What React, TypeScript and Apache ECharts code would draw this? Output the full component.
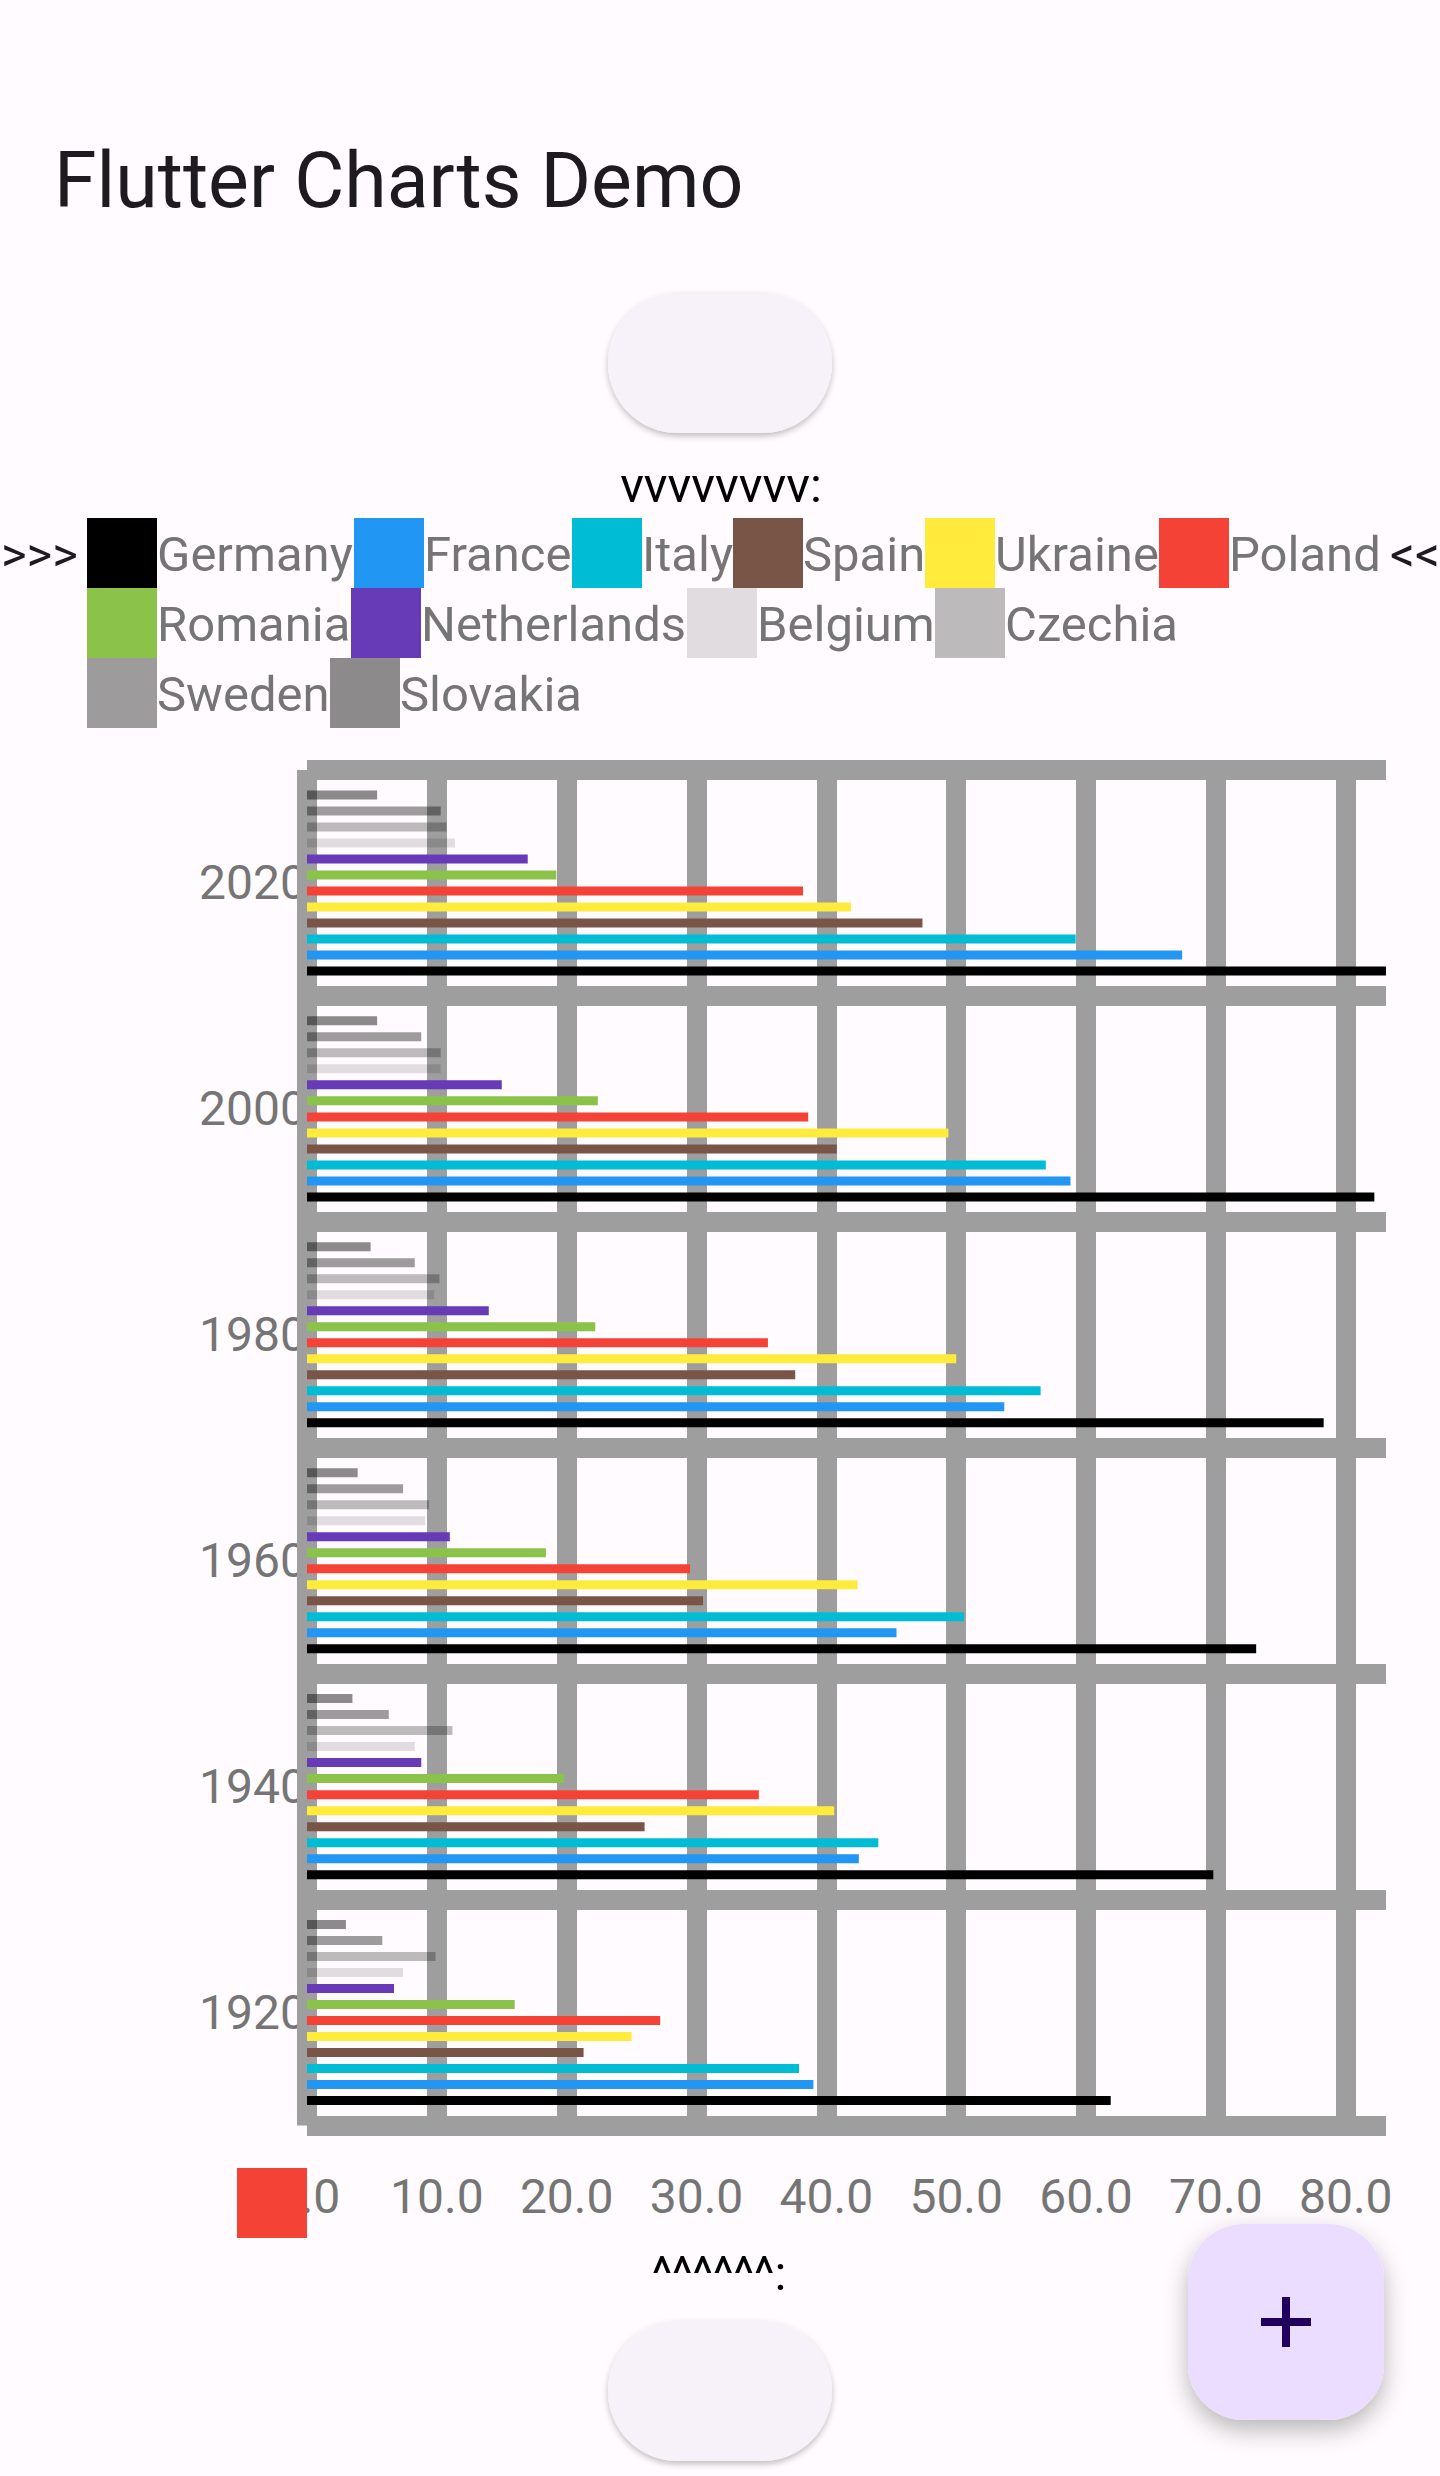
import React, { useEffect, useRef } from "react";
import * as echarts from "echarts";

const years = ["1920", "1940", "1960", "1980", "2000", "2020"];
const countries = [
  "Germany", "France", "Italy", "Spain", "Ukraine", "Poland",
  "Romania", "Netherlands", "Belgium", "Czechia", "Sweden", "Slovakia",
];
const colors = [
  "#000000", "#2196f3", "#00bcd4", "#795548", "#ffeb3b", "#f44336",
  "#8bc34a", "#673ab7", "rgba(0,0,0,0.12)", "rgba(0,0,0,0.26)", "rgba(0,0,0,0.38)", "rgba(0,0,0,0.45)",
];
// values per country, ordered by years (1920..2020)
const germany = [61.9, 69.8, 73.1, 78.3, 82.2, 83.1];
const france = [39.0, 42.5, 45.4, 53.7, 58.8, 67.4];
const italy = [37.9, 44.0, 50.6, 56.5, 56.9, 59.2];
const spain = [21.3, 26.0, 30.5, 37.6, 40.8, 47.4];
const ukraine = [25.0, 40.6, 42.4, 50.0, 49.4, 41.9];
const poland = [27.2, 34.8, 29.5, 35.5, 38.6, 38.2];
const romania = [16.0, 19.8, 18.4, 22.2, 22.4, 19.2];
const netherlands = [6.7, 8.8, 11.0, 14.0, 15.0, 17.0];
const belgium = [7.4, 8.3, 9.1, 9.8, 10.3, 11.4];
const czechia = [9.9, 11.2, 9.4, 10.2, 10.3, 10.75];
const sweden = [5.8, 6.3, 7.4, 8.3, 8.8, 10.3];
const slovakia = [3.0, 3.5, 3.9, 4.9, 5.4, 5.4];
const seriesValues = [
  germany, france, italy, spain, ukraine, poland,
  romania, netherlands, belgium, czechia, sweden, slovakia,
];
const xTicks = [0, 10, 20, 30, 40, 50, 60, 70, 80];

// legend layout (swatch left x, row index)
const legendLayout = [
  [87, 0], [354, 0], [572, 0], [733, 0], [925, 0], [1159, 0],
  [87, 1], [351, 1], [687, 1], [935, 1],
  [87, 2], [330, 2],
];

const FONT = "Roboto";

export default function App() {
  const ref = useRef<HTMLDivElement>(null);
  useEffect(() => {
    if (!ref.current) return;
    const chart = echarts.init(ref.current, null, { renderer: "svg" });
    const maxVal = Math.max(...seriesValues.flat());

    const legendEls: any[] = [];
    countries.forEach((c, i) => {
      const [x, row] = legendLayout[i];
      const top = 518 + row * 70;
      legendEls.push({
        type: "rect",
        shape: { x, y: top, width: 70, height: 70 },
        style: { fill: colors[i] },
      });
      legendEls.push({
        type: "text",
        x: x + 70,
        y: top + 36,
        style: {
          text: c,
          fontFamily: FONT,
          fontSize: 49,
          fill: "#757575",
          verticalAlign: "middle",
          align: "left",
        },
      });
    });

    // series listed last-to-first so that the first country sits at the bottom of each group
    const barSeries = countries
      .map((c, i) => ({
        name: c,
        type: "bar",
        data: seriesValues[i],
        barWidth: 9,
        barGap: "77.8%",
        z: 10,
        itemStyle: { color: colors[i] },
      }))
      .reverse();

    const option: any = {
      animation: false,
      backgroundColor: "#fffbfe",
      grid: { left: 307, right: 54, top: 770, bottom: 350.5, containLabel: false },
      xAxis: {
        type: "value",
        min: 0,
        max: maxVal,
        interval: 10,
        axisLine: { show: false },
        axisTick: { show: false },
        splitLine: { show: false },
        axisLabel: {
          fontFamily: FONT,
          fontSize: 48,
          color: "#757575",
          margin: 71,
          verticalAlign: "middle",
          hideOverlap: false,
          showMaxLabel: true,
          showMinLabel: true,
          formatter: (v: number) => (Math.abs(v % 10) < 1e-9 ? v.toFixed(1) : ""),
        },
      },
      yAxis: {
        type: "category",
        data: years,
        axisLine: { show: false },
        axisTick: { show: false },
        splitLine: { show: true, lineStyle: { color: "#9e9e9e", width: 20 } },
        axisLabel: { fontFamily: FONT, fontSize: 48, color: "#757575", margin: 0 },
      },
      series: [
        {
          type: "line",
          data: [],
          z: 1,
          silent: true,
          markLine: {
            silent: true,
            z: 1,
            symbol: ["none", "none"],
            label: { show: false },
            lineStyle: { type: "solid", width: 20, color: "#9e9e9e" },
            emphasis: { disabled: true },
            data: xTicks.map((t) => ({ xAxis: t })),
          },
        },
        ...barSeries,
      ],
      graphic: [
        {
          type: "text",
          x: 54,
          y: 181,
          style: { text: "Flutter Charts Demo", fontFamily: FONT, fontSize: 77, fill: "#1d1b20", verticalAlign: "middle" },
        },
        {
          type: "rect",
          shape: { x: 608, y: 293, width: 224, height: 140, r: 70 },
          style: { fill: "#f7f2fa", shadowBlur: 6, shadowOffsetY: 3, shadowColor: "rgba(0,0,0,0.25)" },
        },
        {
          type: "text",
          x: 721,
          y: 485,
          style: { text: "vvvvvvvv:", fontFamily: FONT, fontSize: 49, fill: "#000000", align: "center", verticalAlign: "middle" },
        },
        {
          type: "text",
          x: 1,
          y: 554,
          style: { text: ">>>", fontFamily: FONT, fontSize: 49, fill: "#1d1b20", align: "left", verticalAlign: "middle" },
        },
        {
          type: "text",
          x: 1390,
          y: 554,
          style: { text: "<<<", fontFamily: FONT, fontSize: 49, fill: "#1d1b20", align: "left", verticalAlign: "middle" },
        },
        ...legendEls,
        {
          type: "rect",
          z: 100,
          shape: { x: 237, y: 2168, width: 70, height: 70 },
          style: { fill: "#f44336" },
        },
        {
          type: "text",
          x: 719,
          y: 2273,
          style: { text: "^^^^^^:", fontFamily: FONT, fontSize: 49, fill: "#000000", align: "center", verticalAlign: "middle" },
        },
        {
          type: "rect",
          shape: { x: 608, y: 2321, width: 224, height: 140, r: 70 },
          style: { fill: "#f7f2fa", shadowBlur: 6, shadowOffsetY: 3, shadowColor: "rgba(0,0,0,0.25)" },
        },
        {
          type: "rect",
          shape: { x: 1188, y: 2224, width: 196, height: 196, r: 56 },
          style: { fill: "#eaddff", shadowBlur: 24, shadowOffsetY: 10, shadowColor: "rgba(0,0,0,0.28)" },
        },
        {
          type: "rect",
          shape: { x: 1261, y: 2318, width: 50, height: 8 },
          style: { fill: "#21005d" },
        },
        {
          type: "rect",
          shape: { x: 1282, y: 2297, width: 8, height: 50 },
          style: { fill: "#21005d" },
        },
      ],
    };
    chart.setOption(option);
    return () => chart.dispose();
  }, []);
  return (
    <div
      ref={ref}
      style={{ position: "absolute", left: 0, top: 0, width: 1440, height: 2476 }}
    />
  );
}
